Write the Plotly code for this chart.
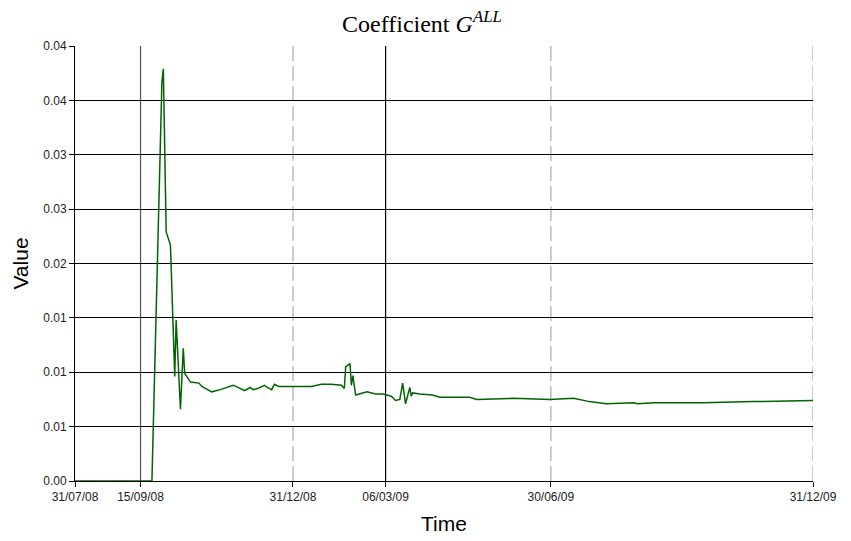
import plotly.graph_objects as go

dates = ["2008-07-31", "2008-09-23", "2008-09-30", "2008-10-01", "2008-10-03", "2008-10-06",
         "2008-10-09", "2008-10-10", "2008-10-13", "2008-10-15", "2008-10-16", "2008-10-20",
         "2008-10-26", "2008-10-28", "2008-11-04", "2008-11-10", "2008-11-19", "2008-11-21",
         "2008-11-27", "2008-12-01", "2008-12-03", "2008-12-06", "2008-12-11", "2008-12-13",
         "2008-12-16", "2008-12-18", "2008-12-21", "2008-12-31", "2009-01-13", "2009-01-20",
         "2009-01-27", "2009-02-03", "2009-02-05", "2009-02-06", "2009-02-09", "2009-02-10",
         "2009-02-11", "2009-02-13", "2009-02-16", "2009-02-21", "2009-02-27", "2009-03-04",
         "2009-03-10", "2009-03-13", "2009-03-16", "2009-03-18", "2009-03-20", "2009-03-23",
         "2009-03-24", "2009-03-25", "2009-03-30", "2009-04-08", "2009-04-13", "2009-05-04",
         "2009-05-09", "2009-06-04", "2009-06-29", "2009-07-16", "2009-07-27", "2009-08-08",
         "2009-08-27", "2009-08-30", "2009-09-10", "2009-10-15", "2009-11-19", "2009-12-31"]
values = [0.0, 0.0, 0.0367, 0.0379, 0.0229, 0.0217,
          0.0096, 0.0148, 0.0066, 0.0122, 0.0099, 0.0091,
          0.0090, 0.0087, 0.0082, 0.0084, 0.0088, 0.0087,
          0.0083, 0.0086, 0.0084, 0.0085, 0.0088, 0.0086,
          0.0084, 0.0089, 0.0087, 0.0087, 0.0087, 0.0089,
          0.0089, 0.0088, 0.0085, 0.0105, 0.0108, 0.0088,
          0.0097, 0.0079, 0.0080, 0.0082, 0.0080, 0.0080,
          0.0078, 0.0074, 0.0075, 0.0090, 0.0071, 0.0086,
          0.0078, 0.0081, 0.0080, 0.0079, 0.0077, 0.0077,
          0.0075, 0.0076, 0.0075, 0.0076, 0.0073, 0.0071,
          0.0072, 0.0071, 0.0072, 0.0072, 0.0073, 0.0074]

x_tick_vals = ["2008-07-31", "2008-09-15", "2008-12-31", "2009-03-06", "2009-06-30", "2009-12-31"]
x_tick_text = ["31/07/08", "15/09/08", "31/12/08", "06/03/09", "30/06/09", "31/12/09"]
y_tick_vals = [0.0, 0.005, 0.01, 0.015, 0.02, 0.025, 0.03, 0.035, 0.04]
y_tick_text = ["0.00", "0.01", "0.01", "0.01", "0.02", "0.03", "0.03", "0.04", "0.04"]

solid_dates = ["2008-09-15", "2009-03-06"]
solid_colors = ["#555555", "#000000"]
dashed_dates = ["2008-12-31", "2009-06-30", "2009-12-31"]

fig = go.Figure()
fig.add_trace(go.Scatter(x=dates, y=values, mode="lines",
                         line=dict(color="#006400", width=1.5), showlegend=False))

for d, c in zip(solid_dates, solid_colors):
    fig.add_shape(type="line", xref="x", yref="paper", x0=d, x1=d, y0=0, y1=1,
                  line=dict(color=c, width=1.2), layer="below")
for d in dashed_dates:
    fig.add_shape(type="line", xref="x", yref="paper", x0=d, x1=d, y0=0, y1=1,
                  line=dict(color="#bbbbbb", width=1.5, dash="15px,5px"), layer="below")

fig.update_layout(
    width=843, height=533,
    margin=dict(l=67, r=38, t=38, b=60, autoexpand=False),
    paper_bgcolor="white", plot_bgcolor="white",
    title=dict(text="Coefficient <i>G</i><sup><i>ALL</i></sup>",
               x=0.491, xanchor="center", y=0.97, yanchor="middle",
               font=dict(family="Liberation Serif, Times New Roman, serif", size=24, color="black")),
    font=dict(family="Liberation Sans, Arial, sans-serif", color="black"),
)
fig.update_xaxes(type="date", range=["2008-07-31", "2009-12-31"], automargin=False,
                 tickmode="array", tickvals=x_tick_vals, ticktext=x_tick_text,
                 ticks="outside", ticklen=5, tickcolor="black", tickfont=dict(size=12, color="#222222"),
                 showgrid=False, showline=True, linecolor="black", linewidth=1,
                 zeroline=False,
                 title=dict(text="Time", font=dict(size=21), standoff=12))
fig.update_yaxes(range=[0, 0.04], automargin=False, tickmode="array", tickvals=y_tick_vals, ticktext=y_tick_text,
                 ticks="outside", ticklen=5, tickcolor="black", tickfont=dict(size=12, color="#222222"),
                 showgrid=True, gridcolor="black", gridwidth=1,
                 showline=True, linecolor="black", linewidth=1, zeroline=False,
                 title=dict(text="Value", font=dict(size=21), standoff=8))

fig.write_html("out.html")
